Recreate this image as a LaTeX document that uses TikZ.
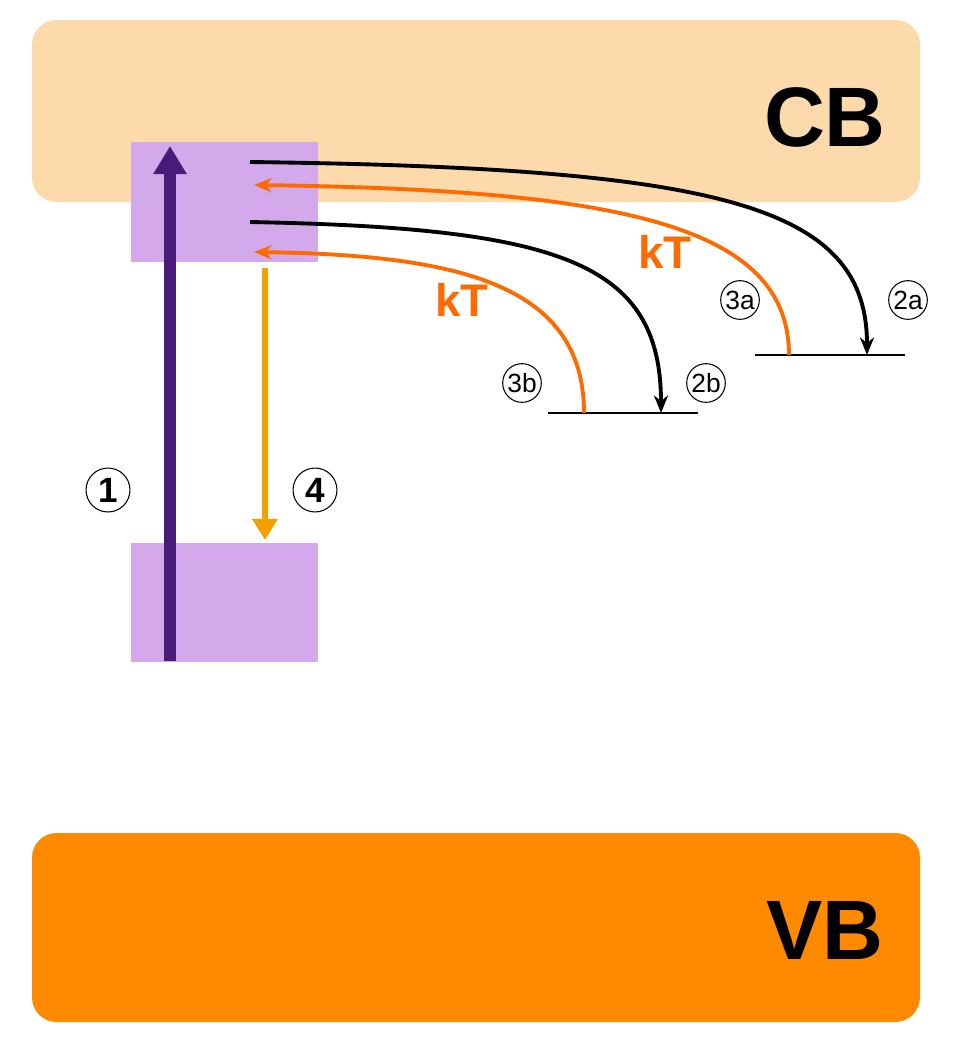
\documentclass[tikz,border=0pt]{standalone}
\usepackage{fontspec}
\setmainfont{Liberation Sans}
\usetikzlibrary{arrows.meta,positioning}
\definecolor{cbcol}{HTML}{FDDAAB}
\definecolor{vbcol}{HTML}{FF8A00}
\definecolor{lilac}{HTML}{D4A9EB}
\definecolor{violet}{HTML}{4A1A78}
\definecolor{amber}{HTML}{F2A100}
\definecolor{kTcol}{HTML}{FF6A00}
\tikzset{
	band/.style={rounded corners=7pt,draw=none},
	state/.style={fill=lilac,draw=none},
	level/.style={line width=0.8pt},
	trans/.style={line width=1.1pt,-{Stealth[length=5pt,width=4pt]}},
	circ/.style={circle,draw,line width=0.3pt,inner sep=0pt,minimum size=12.5pt,font=\bfseries\fontsize{10}{10}\selectfont},
	subcirc/.style={circ,minimum size=11pt,font=\fontsize{7.5}{7.5}\selectfont},
	bandlabel/.style={font=\bfseries\fontsize{24}{24}\selectfont},
	kTlabel/.style={kTcol,font=\bfseries\fontsize{13}{13}\selectfont}
}
\begin{document}
\begin{tikzpicture}[x=0.1mm,y=-0.1mm]
			\useasboundingbox (0,0) rectangle (963,1044);
			% bands
			\fill[band,cbcol] (32,20) rectangle (920,202);
			\fill[band,vbcol] (32,833) rectangle (920,1022);
			\node[bandlabel] (cb) at (825,117) {CB};
			\node[bandlabel] (vb) at (825,930) {VB};
			% excited and ground states
			\fill[state] (131,142) rectangle (318,262);
			\fill[state] (131,543) rectangle (318,662);
			% trap levels
			\coordinate (la1) at (755,355); \coordinate (la2) at (905,355);
			\coordinate (lb1) at (548,413); \coordinate (lb2) at (698,413);
			\draw[level] (la1) -- (la2);
			\draw[level] (lb1) -- (lb2);
			% excitation and emission
			\coordinate (exS) at (170,661); \coordinate (exE) at (170,146);
			\coordinate (emS) at (265,268); \coordinate (emE) at (265,540);
			\draw[violet,line width=3.4pt,-{Triangle[length=8pt,width=9pt]}] (exS) -- (exE);
			\draw[amber,line width=1.6pt,-{Triangle[length=6pt,width=7pt]}] (emS) -- (emE);
			% trapping and detrapping
			\coordinate (ta) at (250,162); \coordinate (tae) at (867,355);
			\coordinate (ra) at (789,355); \coordinate (rae) at (254,185);
			\coordinate (tb) at (250,222); \coordinate (tbe) at (661,413);
			\coordinate (rb) at (584,413); \coordinate (rbe) at (254,252);
			\draw[trans] (ta) .. controls (720,168) and (867,205) .. (tae);
			\draw[trans,kTcol] (ra) .. controls (789,225) and (620,190) .. (rae);
			\draw[trans] (tb) .. controls (560,228) and (661,262) .. (tbe);
			\draw[trans,kTcol] (rb) .. controls (584,285) and (460,255) .. (rbe);
			% labels
			\node[kTlabel] (kta) at (665,252) {kT};
			\node[kTlabel] (ktb) at (462,300) {kT};
			\node[circ] (c1) at (108,490) {1};
			\node[circ] (c4) at (315,490) {4};
			\node[subcirc] (c3a) at (740,300) {3a};
			\node[subcirc] (c2a) at (908,300) {2a};
			\node[subcirc] (c3b) at (522,383) {3b};
			\node[subcirc] (c2b) at (706,383) {2b};
\end{tikzpicture}
\end{document}
